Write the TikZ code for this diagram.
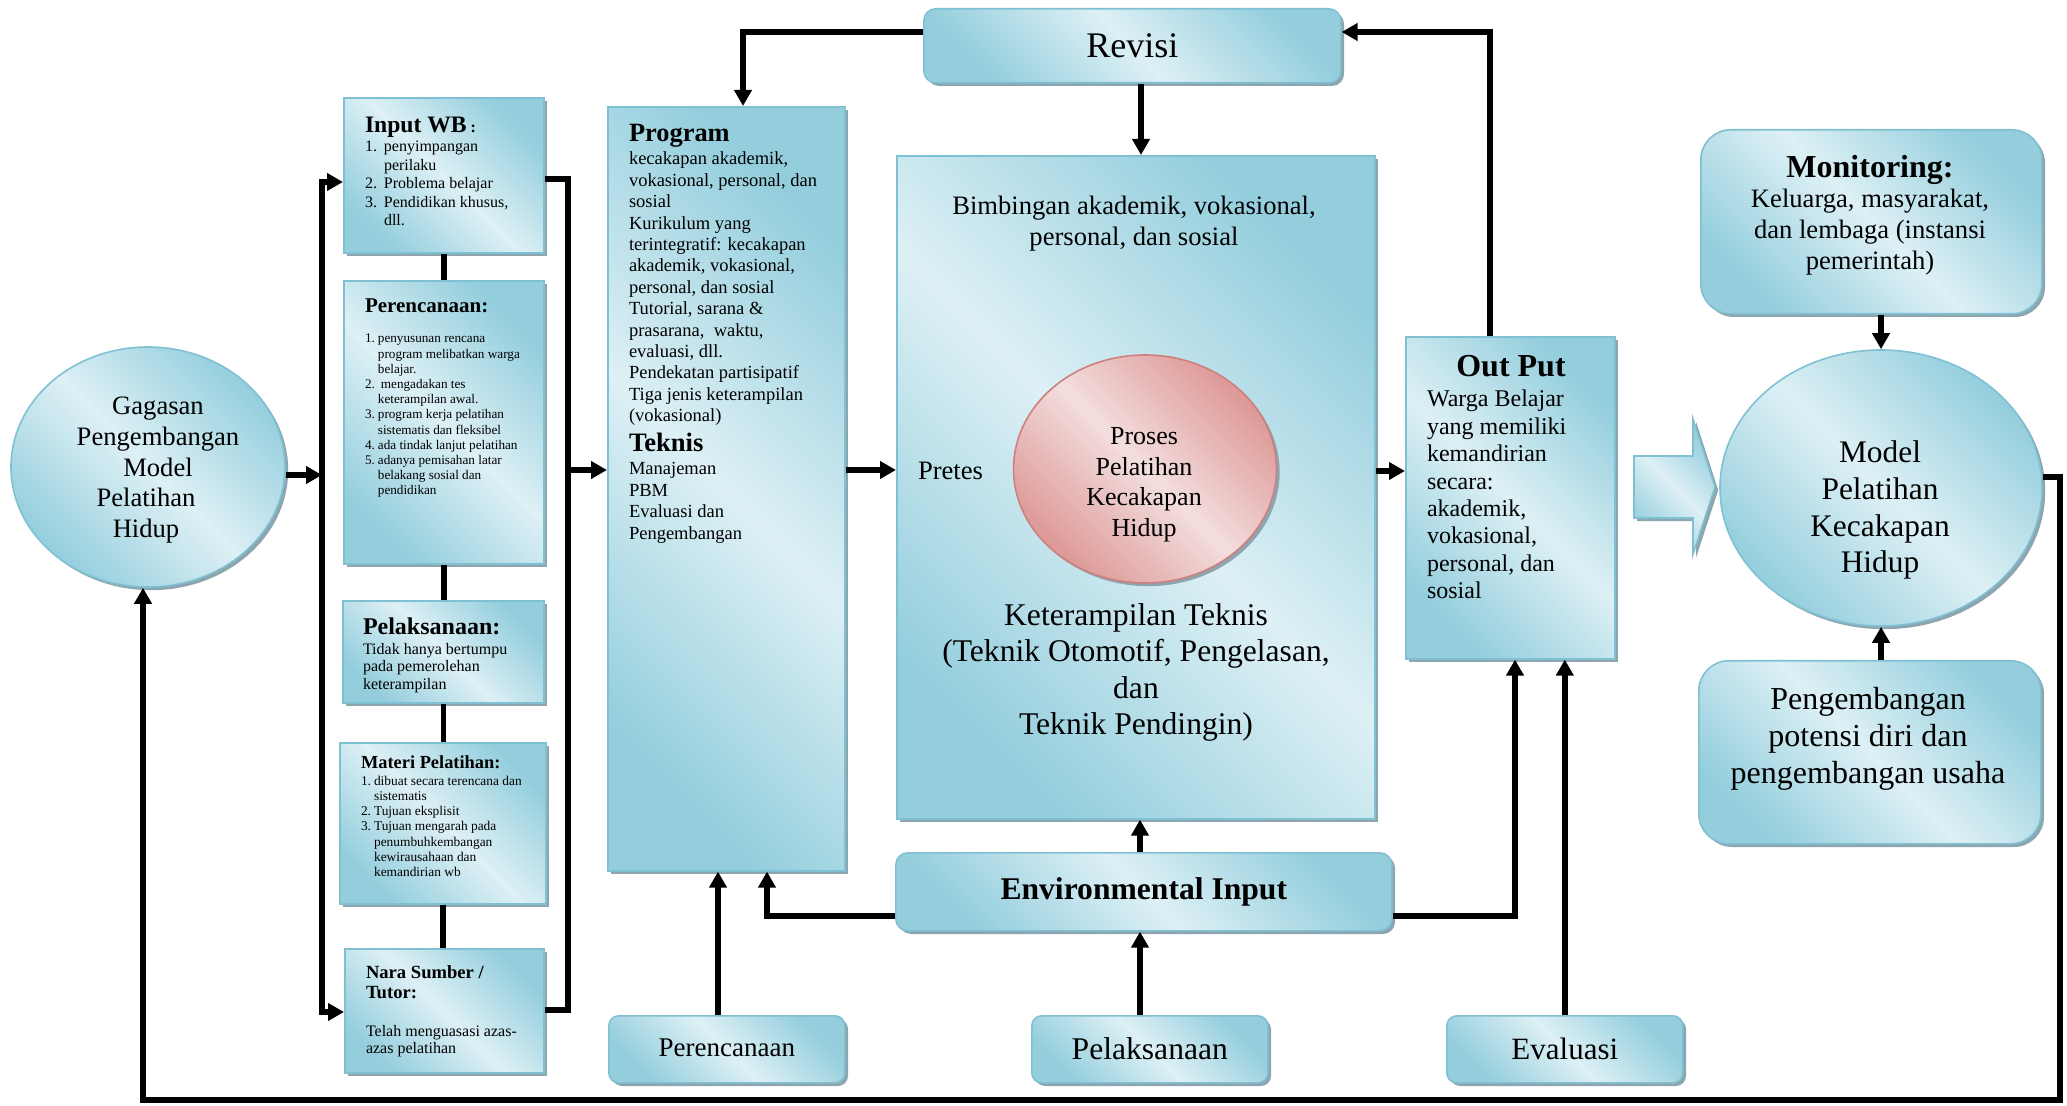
\documentclass[tikz,border=0pt]{standalone}
\usepackage{fontspec}
\setmainfont{Liberation Serif}
\usetikzlibrary{shapes.geometric,shadows,arrows.meta}
\newcommand{\fsz}[2]{\fontsize{#1pt}{#2pt}\selectfont}
\definecolor{bd}{RGB}{148,206,221}
\definecolor{bl}{RGB}{221,240,245}
\definecolor{bb}{RGB}{128,192,211}
\definecolor{sh}{RGB}{140,165,175}
\definecolor{pd}{RGB}{220,152,150}
\definecolor{pl}{RGB}{243,222,222}
\definecolor{pb}{RGB}{205,128,126}
\tikzset{
  bluefill/.style={top color=bd, bottom color=bd, middle color=bl, shading angle=-45, draw=bb, line width=0.8pt},
  pinkfill/.style={top color=pd, bottom color=pd, middle color=pl, shading angle=-45, draw=pb, line width=0.8pt},
  shad/.style={general shadow={fill=sh, shadow xshift=1.6pt, shadow yshift=-1.6pt}},
  box/.style={rectangle, bluefill, shad, inner sep=0pt, anchor=north west},
  rbox/.style={box, rounded corners=6pt},
  ell/.style={ellipse, bluefill, shad, inner sep=0pt},
  txt/.style={inner sep=0pt, outer sep=0pt, text=black},
  conn/.style={draw=black, line width=2.7pt},
  arrow/.style={conn, ->},
}
\begin{document}
\begin{tikzpicture}[x=0.5pt, y=-0.5pt, >={Triangle[length=8pt,width=8.5pt]}]
\useasboundingbox (0,0) rectangle (2067,1106);

% ---------- left ellipse
\node[ell, minimum width=137pt, minimum height=120pt] (gag) at (148,467) {};
\node[txt, anchor=base] (gagT) at (158,415) {\fsz{13.3}{15.3}\begin{tabular}[t]{@{}c@{}}Gagasan\\Pengembangan\\Model\\Pelatihan\hspace{12pt}\mbox{}\\Hidup\hspace{12pt}\mbox{}\end{tabular}};

% ---------- left column boxes
\node[box, minimum width=100pt, minimum height=77.5pt] (inwb) at (343,97) {};
\node[txt, anchor=base west] (inwbT) at (365,133) {\fsz{11.8}{14}\textbf{Input WB}\fsz{8}{9}\textbf{ :}};
\node[txt, anchor=base west] (inwbL) at (365,152) {\fsz{8}{9.25}\begin{tabular}[t]{@{}l@{\hspace{3.5pt}}l@{}}1.&penyimpangan\\&perilaku\\2.&Problema belajar\\3.&Pendidikan khusus,\\&dll.\end{tabular}};

\node[box, minimum width=100pt, minimum height=141.5pt] (perenc) at (343,280) {};
\node[txt, anchor=base west] (perencT) at (365,313) {\fsz{10.5}{12}\textbf{Perencanaan:}};
\node[txt, anchor=base west] (perencL) at (365,343) {\fsz{6.6}{7.6}\begin{tabular}[t]{@{}l@{\hspace{1.5pt}}l@{}}1.&penyusunan rencana\\&program melibatkan warga\\&belajar.\\2.&\hspace{1.5pt}mengadakan tes\\&keterampilan awal.\\3.&program kerja pelatihan\\&sistematis dan fleksibel\\4.&ada tindak lanjut pelatihan\\5.&adanya pemisahan latar\\&belakang sosial dan\\&pendidikan\end{tabular}};

\node[box, minimum width=100.5pt, minimum height=51pt] (pelak) at (342,600) {};
\node[txt, anchor=base west] (pelakT) at (363,635) {\fsz{12}{14}\textbf{Pelaksanaan:}};
\node[txt, anchor=base west] (pelakL) at (363,654) {\fsz{8}{8.75}\begin{tabular}[t]{@{}l@{}}Tidak hanya bertumpu\\pada pemerolehan\\keterampilan\end{tabular}};

\node[box, minimum width=103pt, minimum height=80.5pt] (materi) at (339,742) {};
\node[txt, anchor=base west] (materiT) at (361,768) {\fsz{9.2}{11}\textbf{Materi Pelatihan:}};
\node[txt, anchor=base west] (materiL) at (361,785) {\fsz{6.7}{7.65}\begin{tabular}[t]{@{}l@{\hspace{1.5pt}}l@{}}1.&dibuat secara terencana dan\\&sistematis\\2.&Tujuan eksplisit\\3.&Tujuan mengarah pada\\&penumbuhkembangan\\&kewirausahaan dan\\&kemandirian wb\end{tabular}};

\node[box, minimum width=99.5pt, minimum height=62pt] (nara) at (344,948) {};
\node[txt, anchor=base west] (naraT) at (366,978) {\fsz{9.3}{10}\begin{tabular}[t]{@{}l@{}}\textbf{Nara Sumber /}\\\textbf{Tutor:}\end{tabular}};
\node[txt, anchor=base west] (naraL) at (366,1036) {\fsz{8}{8.75}\begin{tabular}[t]{@{}l@{}}Telah menguasasi azas-\\azas pelatihan\end{tabular}};

% ---------- program
\node[box, minimum width=118.5pt, minimum height=382pt] (prog) at (607,106) {};
\node[txt, anchor=base west] (progT) at (629,142) {\fsz{13.2}{15}\textbf{Program}};
\node[txt, anchor=base west] (progL) at (629,165) {\fsz{9.25}{10.7}\begin{tabular}[t]{@{}l@{}}kecakapan akademik,\\vokasional, personal, dan\\sosial\\Kurikulum yang\\terintegratif: kecakapan\\akademik, vokasional,\\personal, dan sosial\\Tutorial, sarana \&\\prasarana,\ \ waktu,\\evaluasi, dll.\\Pendekatan partisipatif\\Tiga jenis keterampilan\\(vokasional)\end{tabular}};
\node[txt, anchor=base west] (teknT) at (629,452) {\fsz{13.3}{15}\textbf{Teknis}};
\node[txt, anchor=base west] (teknL) at (629,475) {\fsz{9.25}{10.75}\begin{tabular}[t]{@{}l@{}}Manajeman\\PBM\\Evaluasi dan\\Pengembangan\end{tabular}};

% ---------- revisi
\node[rbox, minimum width=208.5pt, minimum height=37pt, font={\fsz{18}{20}}] (rev) at (923,8) {Revisi};

% ---------- center
\node[box, minimum width=239pt, minimum height=331.5pt] (cent) at (896,155) {};
\node[txt, anchor=base] (bimb) at (1134,215) {\fsz{13.3}{15.5}\begin{tabular}[t]{@{}c@{}}Bimbingan akademik, vokasional,\\personal, dan sosial\end{tabular}};
\node[ell, pinkfill, minimum width=131.5pt, minimum height=114pt] (proses) at (1145,469) {};
\node[txt, anchor=base] (prosT) at (1144,445) {\fsz{13}{15.25}\begin{tabular}[t]{@{}c@{}}Proses\\Pelatihan\\Kecakapan\\Hidup\end{tabular}};
\node[txt, anchor=base west] (pretes) at (918,480) {\fsz{13.3}{15}Pretes};
\node[txt, anchor=base] (ketT) at (1136,625) {\fsz{15.8}{18.3}\begin{tabular}[t]{@{}c@{}}Keterampilan Teknis\\(Teknik Otomotif, Pengelasan,\\dan\\Teknik Pendingin)\end{tabular}};

% ---------- environmental input
\node[rbox, minimum width=248pt, minimum height=39pt, font={\fsz{15.8}{18}\bfseries}] (env) at (895,852) {\raisebox{1pt}{Environmental Input}};

% ---------- output
\node[box, minimum width=104.5pt, minimum height=161pt] (outp) at (1405,336) {};
\node[txt, anchor=base] (outT) at (1511,377) {\fsz{16}{18}\textbf{Out Put}};
\node[txt, anchor=base west] (outL) at (1427,407) {\fsz{12}{13.7}\begin{tabular}[t]{@{}l@{}}Warga Belajar\\yang memiliki\\kemandirian\\secara:\\akademik,\\vokasional,\\personal, dan\\sosial\end{tabular}};

% ---------- block arrow
\shade[bluefill, shad] (1634,456) -- (1693,456) -- (1693,419) -- (1715,487) -- (1693,554) -- (1693,518) -- (1634,518) -- cycle;

% ---------- right side
\node[ell, minimum width=161pt, minimum height=138pt] (model) at (1881,488) {};
\node[txt, anchor=base] (modelT) at (1880,463) {\fsz{15.7}{18.3}\begin{tabular}[t]{@{}c@{}}Model\\Pelatihan\\Kecakapan\\Hidup\end{tabular}};

\node[box, rounded corners=15pt, minimum width=170.5pt, minimum height=92pt] (monit) at (1700,129) {};
\node[txt, anchor=base] (monitT) at (1870,178) {\fsz{16}{18}\textbf{Monitoring:}};
\node[txt, anchor=base] (monitL) at (1870,208) {\fsz{13.3}{15.5}\begin{tabular}[t]{@{}c@{}}Keluarga, masyarakat,\\dan lembaga (instansi\\pemerintah)\end{tabular}};

\node[box, rounded corners=15pt, minimum width=171pt, minimum height=91.5pt] (pengem) at (1698,660) {};
\node[txt, anchor=base] (pengemT) at (1868,709) {\fsz{16}{18.5}\begin{tabular}[t]{@{}c@{}}Pengembangan\\potensi diri dan\\pengembangan usaha\end{tabular}};

% ---------- bottom boxes
\node[rbox, rounded corners=5pt, minimum width=118pt, minimum height=33.5pt, font={\fsz{13.5}{15}}] (bperenc) at (608,1015) {\raisebox{2pt}{Perencanaan}};
\node[rbox, rounded corners=5pt, minimum width=118pt, minimum height=33.5pt, font={\fsz{15.8}{18}}] (bpelak) at (1031,1015) {\raisebox{1pt}{Pelaksanaan}};
\node[rbox, rounded corners=5pt, minimum width=118pt, minimum height=33.5pt, font={\fsz{15.5}{18}}] (beval) at (1446,1015) {\raisebox{1pt}{Evaluasi}};

% ---------- coordinates for connectors
\coordinate (busA) at (322,182);
\coordinate (busB) at (322,1012);
\coordinate (busM) at (322,475);
\coordinate (busR1) at (568,179);
\coordinate (busR2) at (568,1010);
\coordinate (busRm) at (568,470);
\coordinate (rvL) at (743,32);
\coordinate (rvR) at (1490,32);
\coordinate (rvD) at (1141,82);
\coordinate (envU) at (1140,0);
\coordinate (envL) at (767,916);
\coordinate (envR) at (1515,916);
\coordinate (bpX) at (718,0);
\coordinate (outY) at (0,471);
\coordinate (fb1) at (2060,477);
\coordinate (fb2) at (2060,1100);
\coordinate (fb3) at (143,1100);

% ---------- connectors
\draw[arrow] ([yshift=-4pt]gag.east) -- (busM);
\draw[conn, <->] (inwb.west |- busA) -- (busA) -- (busB) -- (nara.west |- busB);
\draw[conn] (inwb.south) -- (inwb.south |- perenc.north);
\draw[conn] (perenc.south) -- (perenc.south |- pelak.north);
\draw[conn] (pelak.south) -- (pelak.south |- materi.north);
\draw[conn] (materi.south) -- (materi.south |- nara.north);
\draw[conn] (inwb.east |- busR1) -- (busR1) -- (busR2) -- (nara.east |- busR2);
\draw[arrow] (busRm) -- (prog.west |- busRm);
\draw[arrow] (prog.east |- busRm) -- (cent.west |- busRm);
\draw[arrow] (cent.east |- outY) -- (outp.west |- outY);
\draw[arrow] (rev.west |- rvL) -- (rvL) -- (rvL |- prog.north);
\draw[arrow] (rev.south -| rvD) -- (cent.north -| rvD);
\draw[arrow] (outp.north -| rvR) -- (rvR) -- (rev.east |- rvR);
\draw[arrow] (env.north -| envU) -- (cent.south -| envU);
\draw[arrow] (bpelak.north -| envU) -- (env.south -| envU);
\draw[arrow] (env.west |- envL) -- (envL) -- (envL |- prog.south);
\draw[arrow] (bperenc.north -| bpX) -- (prog.south -| bpX);
\draw[arrow] (env.east |- envR) -- (envR) -- (envR |- outp.south);
\draw[arrow] (beval.north) -- (beval.north |- outp.south);
\draw[arrow] (monit.south -| model.north) -- (model.north);
\draw[arrow] (pengem.north -| model.south) -- (model.south);
\draw[arrow] (model.east |- fb1) -- (fb1) -- (fb2) -- (fb3) -- (fb3 |- gag.south);
\end{tikzpicture}
\end{document}
